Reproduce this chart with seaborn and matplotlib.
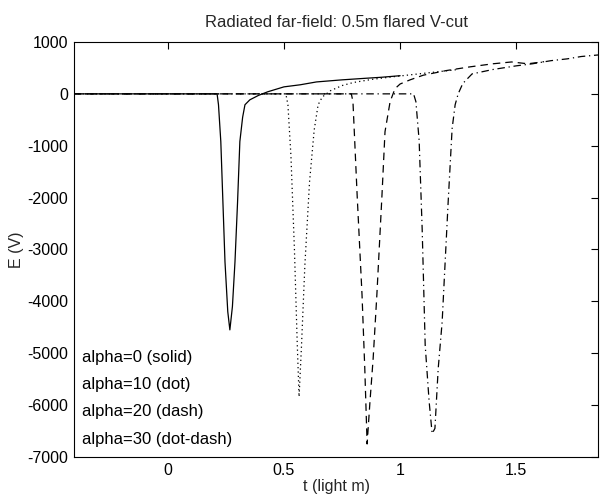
import matplotlib
matplotlib.use("Agg")
import matplotlib.pyplot as plt
import seaborn as sns
import pandas as pd

# values (t in light m, E in V)
t_a0 = [-0.405, 0.212, 0.218, 0.228, 0.246, 0.258, 0.267, 0.278, 0.289, 0.30, 0.31,
        0.322, 0.332, 0.353, 0.39, 0.43, 0.5, 0.57, 0.64, 0.75, 0.85, 0.92, 1.0]
e_a0 = [0, 0, -210, -920, -3240, -4200, -4550, -4100, -3240, -2100, -920,
        -450, -210, -115, -30, 40, 135, 175, 230, 270, 300, 320, 350]

t_a10 = [-0.405, 0.508, 0.517, 0.53, 0.545, 0.557, 0.565, 0.575, 0.59, 0.61, 0.63,
         0.647, 0.665, 0.70, 0.75, 0.80, 0.88, 0.97, 1.05, 1.15, 1.25]
e_a10 = [0, 0, -210, -1200, -3000, -4800, -5840, -4900, -3300, -1700, -700,
         -210, -60, 60, 160, 220, 280, 330, 370, 420, 470]

t_a20 = [-0.405, 0.79, 0.797, 0.815, 0.836, 0.848, 0.858, 0.87, 0.884, 0.90, 0.922,
         0.935, 0.957, 0.978, 1.0, 1.043, 1.1, 1.2, 1.3, 1.4, 1.48, 1.55, 1.62]
e_a20 = [0, 0, -150, -1950, -3870, -5300, -6750, -5950, -5100, -3870, -1950,
         -730, -150, 100, 190, 270, 360, 450, 520, 580, 615, 580, 620]

t_a30 = [-0.405, 1.058, 1.068, 1.082, 1.095, 1.108, 1.125, 1.138, 1.15, 1.164, 1.181,
         1.194, 1.207, 1.224, 1.237, 1.25, 1.27, 1.31, 1.4, 1.5, 1.57, 1.65, 1.72,
         1.78, 1.853]
e_a30 = [0, 0, -150, -900, -2600, -4840, -5930, -6550, -6450, -5300, -4400,
         -3240, -2080, -670, -210, 0, 200, 385, 470, 540, 580, 640, 675, 720, 750]

series_names = ["alpha=0", "alpha=10", "alpha=20", "alpha=30"]
label_texts = ["alpha=0 (solid)", "alpha=10 (dot)", "alpha=20 (dash)",
               "alpha=30 (dot-dash)"]
label_y = [-5080, -5600, -6130, -6660]

frames = []
for name, t, e in zip(series_names, [t_a0, t_a10, t_a20, t_a30],
                      [e_a0, e_a10, e_a20, e_a30]):
    frames.append(pd.DataFrame({"t": t, "E": e, "series": name}))
df = pd.concat(frames, ignore_index=True)

sns.set_theme(style="white")
plt.rcParams['font.family'] = ['Liberation Sans', 'DejaVu Sans']
plt.rcParams['axes.unicode_minus'] = False

fig = plt.figure(figsize=(6, 4.94), dpi=100)
ax = fig.add_axes([0.123, 0.075, 0.874, 0.840])

dashes = {"alpha=0": "", "alpha=10": (1, 2.5), "alpha=20": (6, 4),
          "alpha=30": (6, 3, 1, 3)}
sns.lineplot(data=df, x="t", y="E", style="series", dashes=dashes,
             color="black", estimator=None, sort=False, legend=False,
             linewidth=0.9, ax=ax)

for txt, y in zip(label_texts, label_y):
    ax.text(-0.37, y, txt, fontsize=12, va="center", ha="left", color="black")

ax.set_xlim(-0.405, 1.853)
ax.set_ylim(-7000, 1000)
ax.set_xticks([0, 0.5, 1, 1.5])
ax.set_xticklabels(["0", "0.5", "1", "1.5"])
ax.set_yticks(range(-7000, 1001, 1000))
ax.tick_params(direction="in", top=True, right=True, length=5, width=0.8,
               labelsize=11.5, colors="black", pad=4)
for sp in ax.spines.values():
    sp.set_color("black")
    sp.set_linewidth(0.8)

ax.set_title("Radiated far-field: 0.5m flared V-cut", fontsize=12, pad=11)
ax.set_xlabel("t (light m)", fontsize=11.5, labelpad=1)
ax.set_ylabel("E (V)", fontsize=11.5, labelpad=2)

fig.savefig("out.png", dpi=100)
plt.close(fig)
